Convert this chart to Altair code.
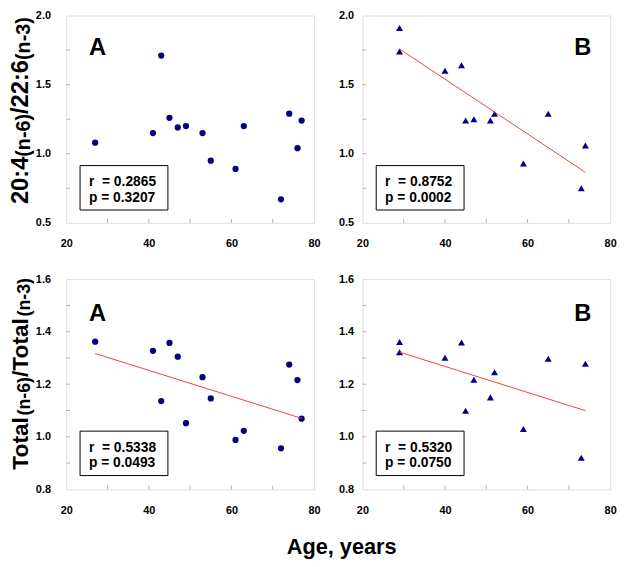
import altair as alt
import pandas as pd

# ---------------- data ----------------
ages_a = [27, 41, 43, 45, 47, 49, 53, 55, 61, 63, 72, 74, 76, 77]
aa_dha_a = [1.08, 1.15, 1.71, 1.26, 1.19, 1.20, 1.15, 0.95, 0.89, 1.20, 0.67, 1.29, 1.04, 1.24]
n6n3_a = [1.362, 1.327, 1.136, 1.357, 1.305, 1.052, 1.227, 1.146, 0.988, 1.023, 0.956, 1.275, 1.216, 1.069]

ages_b = [29, 29, 40, 44, 45, 47, 51, 52, 59, 65, 73, 74]
aa_dha_b = [1.91, 1.74, 1.60, 1.64, 1.24, 1.25, 1.24, 1.29, 0.93, 1.29, 0.75, 1.06]
n6n3_b = [1.361, 1.322, 1.301, 1.359, 1.099, 1.217, 1.150, 1.246, 1.030, 1.297, 0.920, 1.278]

x_ticks = [20, 40, 60, 80]
x_minor = [30, 40, 50, 60, 70]
y_ticks_top = [0.5, 1.0, 1.5, 2.0]
y_minor_top = [0.75, 1.0, 1.25, 1.5, 1.75]
y_ticks_bot = [0.8, 1.0, 1.2, 1.4, 1.6]
y_minor_bot = [0.9, 1.0, 1.1, 1.2, 1.3, 1.4, 1.5]

stats_tl = ["r\u00a0 = 0.2865", "p = 0.3207"]
stats_tr = ["r\u00a0 = 0.8752", "p = 0.0002"]
stats_bl = ["r\u00a0 = 0.5338", "p = 0.0493"]
stats_br = ["r\u00a0 = 0.5320", "p = 0.0750"]

title_top_parts = ["20:4", "(n-6)", "/22:6", "(n-3)"]
title_bot_parts = ["Total", "(n-6)", "/Total", "(n-3)"]
x_title = ["Age, years"]

NAVY = "#000080"
FONT = "Liberation Sans"
W = 251


def txt(s):
    return alt.Chart(pd.DataFrame({"t": [s]}))


def panel(ages, vals, shape, size, ydom, yt, ym, letter, letter_left, stats, reg,
          h, left_col, dy=0, tparts=None, tsizes=None, tys=None, xtitle=False):
    df = pd.DataFrame({"age": ages, "v": vals})
    xs = alt.Scale(domain=[20, 80], nice=False, zero=False)
    ys = alt.Scale(domain=ydom, nice=False, zero=False)
    lab = dict(labelFont=FONT, labelFontSize=11, labelFontWeight="bold", labelColor="black",
               domain=False, grid=False, ticks=False)
    xax = alt.Axis(values=x_ticks, title=None, format="d", labelPadding=15, labelFlush=False, **lab)
    yax = alt.Axis(values=yt, title=None, format=".1f", labelPadding=16 if left_col else 9, **lab)
    base = alt.Chart(df)
    layers = []
    layers.append(
        base.mark_point(filled=True, shape=shape, size=size, color=NAVY, opacity=1).encode(
            x=alt.X("age:Q", scale=xs, axis=xax),
            y=alt.Y("v:Q", scale=ys, axis=yax),
        )
    )
    layers.append(
        alt.Chart(pd.DataFrame({"age": x_minor})).mark_rule(color="#b4b4b4", strokeWidth=1).encode(
            x=alt.X("age:Q", scale=xs, axis=xax), y=alt.value(h), y2=alt.value(h - 4))
    )
    layers.append(
        alt.Chart(pd.DataFrame({"v": ym})).mark_rule(color="#b4b4b4", strokeWidth=1).encode(
            y=alt.Y("v:Q", scale=ys, axis=yax), x=alt.value(0), x2=alt.value(4))
    )
    if reg:
        layers.append(
            base.transform_regression("age", "v").mark_line(color="#f04040", strokeWidth=1).encode(
                x=alt.X("age:Q", scale=xs, axis=xax), y=alt.Y("v:Q", scale=ys, axis=yax))
        )
    # r / p box
    layers.append(
        txt("box").mark_rect(fill="white", stroke="black", strokeWidth=1).encode(
            x=alt.value(14), x2=alt.value(103), y=alt.value(154 + dy), y2=alt.value(199 + dy))
    )
    for s, yy in zip(stats, [175, 190.5]):
        layers.append(
            txt(s).mark_text(align="left", baseline="alphabetic", fontSize=14,
                             fontWeight="bold", font=FONT, color="black").encode(
                x=alt.value(23), y=alt.value(yy + dy), text="t:N")
        )
    # panel letter
    layers.append(
        txt(letter).mark_text(align="left" if letter_left else "right", baseline="alphabetic",
                              fontSize=24, fontWeight="bold", font=FONT, color="black").encode(
            x=alt.value(23 if letter_left else 232), y=alt.value(42 + dy), text="t:N")
    )
    # y title with smaller (n-x) parts
    if tparts:
        for i, (s, fs, yy) in enumerate(zip(tparts, tsizes, tys)):
            layers.append(
                txt(s).mark_text(align="left", baseline="alphabetic", angle=270, fontSize=fs,
                                 fontWeight="bold", font=FONT, color="black").encode(
                    x=alt.value(-39 if i % 2 == 0 else -37), y=alt.value(yy + dy), text="t:N")
            )
    if xtitle:
        layers.append(
            txt(x_title[0]).mark_text(align="center", baseline="alphabetic", fontSize=22,
                                      fontWeight="bold", font=FONT, color="black").encode(
                x=alt.value(279), y=alt.value(278), text="t:N")
        )
    return alt.layer(*layers).properties(width=W, height=h)


tl = panel(ages_a, aa_dha_a, "circle", 40, [0.5, 2.0], y_ticks_top, y_minor_top, "A", True,
           stats_tl, False, 210, True, -2, title_top_parts, [24, 20, 24, 20], [193, 145, 101.7, 47])
tr = panel(ages_b, aa_dha_b, "triangle-up", 50, [0.5, 2.0], y_ticks_top, y_minor_top, "B", False,
           stats_tr, True, 210, False, -2)
bl = panel(ages_a, n6n3_a, "circle", 40, [0.8, 1.6], y_ticks_bot, y_minor_bot, "A", True,
           stats_bl, True, 213, True, 0, title_bot_parts, [23, 18, 23, 18], [193, 138.1, 99.1, 37.8],
           xtitle=True)
br = panel(ages_b, n6n3_b, "triangle-up", 50, [0.8, 1.6], y_ticks_bot, y_minor_bot, "B", False,
           stats_br, True, 213, False, 0)

chart = alt.concat(
    tl, tr, bl, br, columns=2, spacing={"row": 57, "column": 49}, bounds="flush",
    autosize=alt.AutoSizeParams(type="none"),
    padding={"left": 59, "top": 4, "right": 563, "bottom": 555},
).configure_view(
    stroke="#8c8c8c", strokeWidth=1
).configure(background="white")

chart.save("out.html", embed_options={"renderer": "svg", "actions": False})
